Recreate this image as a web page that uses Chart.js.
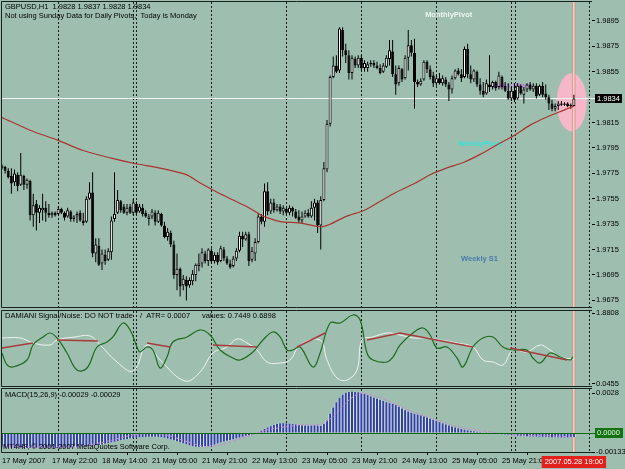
<!DOCTYPE html>
<html>
<head>
<meta charset="utf-8">
<script src="https://cdn.jsdelivr.net/npm/chart.js@4.4.1/dist/chart.umd.min.js"></script>
<style>
html, body { margin: 0; padding: 0; background: #9ebfaf; overflow: hidden; }
#wrap { position: relative; width: 625px; height: 469px; }
canvas { position: absolute; left: 0; }
</style>
</head>
<body>
<div id="wrap">
  <canvas id="priceChart" width="625" height="309" style="top:0"></canvas>
  <canvas id="snChart" width="625" height="78" style="top:309px"></canvas>
  <canvas id="macdChart" width="625" height="82" style="top:387px"></canvas>
</div>
<script>
// GBPUSD H1, 17 May 06:00 .. 28 May 19:00 (bar index 0..183)
const openP = [1.9779,1.9780,1.9777,1.9773,1.9768,1.9774,1.9766,1.9773,1.9766,1.9769,1.9742,1.9751,
 1.9744,1.9746,1.9748,1.9744,1.9742,1.9744,1.9743,1.9747,1.9744,1.9741,1.9745,1.9739,
 1.9741,1.9744,1.9738,1.9737,1.9755,1.9760,1.9712,1.9718,1.9704,1.9711,1.9707,1.9713,
 1.9739,1.9744,1.9753,1.9749,1.9744,1.9749,1.9744,1.9751,1.9745,1.9748,1.9744,1.9739,
 1.9741,1.9744,1.9737,1.9743,1.9734,1.9725,1.9728,1.9719,1.9695,1.9700,1.9687,1.9691,
 1.9687,1.9690,1.9695,1.9702,1.9704,1.9712,1.9706,1.9714,1.9706,1.9711,1.9706,1.9715,
 1.9708,1.9704,1.9702,1.9708,1.9714,1.9726,1.9723,1.9727,1.9707,1.9712,1.9721,1.9741,
 1.9737,1.9761,1.9745,1.9752,1.9746,1.9749,1.9745,1.9747,1.9744,1.9748,1.9745,1.9741,
 1.9738,1.9741,1.9744,1.9741,1.9748,1.9752,1.9734,1.9754,1.9778,1.9814,1.9851,1.9860,
 1.9856,1.9888,1.9872,1.9868,1.9854,1.9865,1.9860,1.9866,1.9858,1.9858,1.9861,1.9862,
 1.9860,1.9858,1.9855,1.9859,1.9865,1.9871,1.9853,1.9846,1.9857,1.9850,1.9866,1.9876,
 1.9870,1.9847,1.9845,1.9849,1.9863,1.9857,1.9852,1.9846,1.9850,1.9846,1.9849,1.9845,
 1.9841,1.9850,1.9856,1.9853,1.9851,1.9873,1.9853,1.9849,1.9855,1.9845,1.9840,1.9838,
 1.9845,1.9843,1.9847,1.9843,1.9851,1.9844,1.9840,1.9834,1.9840,1.9834,1.9844,1.9837,
 1.9841,1.9845,1.9841,1.9844,1.9837,1.9844,1.9838,1.9835,1.9830,1.9826,1.9828,1.9830,
 1.9829,1.9830,1.9828,1.9828];
const highP = [1.9782,1.9781,1.9779,1.9779,1.9778,1.9776,1.9791,1.9774,1.9771,1.9770,1.9759,1.9754,
 1.9750,1.9759,1.9753,1.9751,1.9745,1.9745,1.9749,1.9748,1.9745,1.9748,1.9746,1.9742,
 1.9745,1.9746,1.9744,1.9757,1.9768,1.9776,1.9724,1.9724,1.9715,1.9715,1.9716,1.9741,
 1.9776,1.9762,1.9754,1.9751,1.9751,1.9751,1.9755,1.9753,1.9751,1.9751,1.9746,1.9743,
 1.9747,1.9746,1.9746,1.9744,1.9737,1.9732,1.9730,1.9722,1.9712,1.9701,1.9695,1.9694,
 1.9693,1.9699,1.9704,1.9712,1.9716,1.9714,1.9716,1.9716,1.9713,1.9713,1.9718,1.9717,
 1.9710,1.9707,1.9710,1.9716,1.9729,1.9729,1.9729,1.9729,1.9717,1.9724,1.9744,1.9743,
 1.9767,1.9768,1.9755,1.9755,1.9751,1.9751,1.9750,1.9748,1.9750,1.9749,1.9747,1.9746,
 1.9745,1.9746,1.9747,1.9753,1.9755,1.9754,1.9757,1.9784,1.9817,1.9852,1.9867,1.9868,
 1.9890,1.9890,1.9877,1.9872,1.9868,1.9867,1.9868,1.9868,1.9864,1.9863,1.9864,1.9864,
 1.9863,1.9861,1.9862,1.9868,1.9880,1.9880,1.9860,1.9860,1.9858,1.9868,1.9888,1.9880,
 1.9881,1.9849,1.9850,1.9864,1.9864,1.9860,1.9855,1.9852,1.9854,1.9852,1.9851,1.9847,
 1.9852,1.9857,1.9858,1.9857,1.9875,1.9877,1.9860,1.9857,1.9856,1.9850,1.9847,1.9849,
 1.9868,1.9848,1.9848,1.9855,1.9852,1.9847,1.9846,1.9843,1.9846,1.9846,1.9845,1.9843,
 1.9846,1.9847,1.9846,1.9846,1.9845,1.9847,1.9845,1.9837,1.9833,1.9830,1.9832,1.9832,
 1.9831,1.9831,1.9830,1.9837];
const lowP = [1.9778,1.9775,1.9771,1.9759,1.9765,1.9761,1.9765,1.9762,1.9763,1.9738,1.9733,1.9730,
 1.9736,1.9738,1.9737,1.9740,1.9740,1.9741,1.9742,1.9743,1.9738,1.9740,1.9737,1.9737,
 1.9736,1.9737,1.9734,1.9736,1.9754,1.9709,1.9705,1.9702,1.9699,1.9703,1.9706,1.9707,
 1.9737,1.9743,1.9744,1.9743,1.9742,1.9743,1.9742,1.9742,1.9744,1.9741,1.9740,1.9734,
 1.9739,1.9734,1.9736,1.9733,1.9724,1.9722,1.9717,1.9692,1.9683,1.9678,1.9683,1.9675,
 1.9685,1.9687,1.9690,1.9698,1.9701,1.9704,1.9702,1.9704,1.9704,1.9703,1.9705,1.9706,
 1.9703,1.9700,1.9701,1.9706,1.9713,1.9717,1.9722,1.9702,1.9705,1.9706,1.9720,1.9735,
 1.9733,1.9742,1.9743,1.9744,1.9745,1.9743,1.9742,1.9742,1.9742,1.9741,1.9739,1.9736,
 1.9736,1.9740,1.9740,1.9740,1.9738,1.9728,1.9715,1.9753,1.9776,1.9812,1.9850,1.9854,
 1.9854,1.9867,1.9862,1.9849,1.9849,1.9858,1.9858,1.9856,1.9855,1.9855,1.9859,1.9858,
 1.9857,1.9853,1.9854,1.9858,1.9860,1.9851,1.9837,1.9844,1.9847,1.9849,1.9856,1.9867,
 1.9826,1.9843,1.9844,1.9848,1.9854,1.9849,1.9843,1.9844,1.9845,1.9844,1.9843,1.9832,
 1.9838,1.9849,1.9852,1.9847,1.9850,1.9850,1.9846,1.9847,1.9843,1.9837,1.9835,1.9837,
 1.9839,1.9841,1.9840,1.9841,1.9841,1.9839,1.9833,1.9832,1.9831,1.9833,1.9837,1.9830,
 1.9839,1.9840,1.9839,1.9834,1.9836,1.9835,1.9833,1.9825,1.9824,1.9824,1.9825,1.9828,
 1.9828,1.9827,1.9826,1.9828];
const closeP = [1.9781,1.9777,1.9772,1.9767,1.9775,1.9765,1.9774,1.9766,1.9770,1.9742,1.9750,1.9744,
 1.9748,1.9748,1.9744,1.9742,1.9744,1.9742,1.9747,1.9744,1.9740,1.9746,1.9739,1.9741,
 1.9743,1.9738,1.9736,1.9755,1.9760,1.9712,1.9719,1.9703,1.9712,1.9706,1.9714,1.9738,
 1.9743,1.9754,1.9746,1.9744,1.9748,1.9744,1.9752,1.9744,1.9749,1.9743,1.9741,1.9741,
 1.9745,1.9737,1.9744,1.9734,1.9725,1.9729,1.9719,1.9695,1.9700,1.9686,1.9692,1.9686,
 1.9691,1.9696,1.9703,1.9704,1.9713,1.9706,1.9715,1.9706,1.9711,1.9705,1.9716,1.9708,
 1.9704,1.9701,1.9708,1.9714,1.9726,1.9723,1.9727,1.9706,1.9714,1.9721,1.9741,1.9737,
 1.9761,1.9745,1.9752,1.9746,1.9749,1.9745,1.9748,1.9744,1.9748,1.9745,1.9740,1.9738,
 1.9741,1.9744,1.9741,1.9748,1.9752,1.9734,1.9754,1.9779,1.9814,1.9851,1.9860,1.9855,
 1.9889,1.9872,1.9868,1.9854,1.9866,1.9860,1.9866,1.9858,1.9862,1.9861,1.9862,1.9860,
 1.9858,1.9854,1.9860,1.9866,1.9872,1.9853,1.9845,1.9858,1.9849,1.9866,1.9876,1.9870,
 1.9847,1.9845,1.9848,1.9863,1.9857,1.9851,1.9846,1.9850,1.9846,1.9850,1.9845,1.9841,
 1.9850,1.9856,1.9853,1.9850,1.9873,1.9853,1.9849,1.9856,1.9845,1.9840,1.9837,1.9846,
 1.9843,1.9847,1.9842,1.9852,1.9843,1.9840,1.9834,1.9840,1.9833,1.9844,1.9838,1.9841,
 1.9845,1.9841,1.9844,1.9836,1.9844,1.9837,1.9835,1.9830,1.9826,1.9828,1.9830,1.9829,
 1.9830,1.9828,1.9828,1.9834];

// moving average, read at a set of bars
const maBar = [0,9,18,26,35,42,51,59,63,69,74,79,83,85,89,95,102,105,110,116,121,126,132,137,142,148,153,158,164,169,174,180,183];
const maPrice = [1.9819,1.9809,1.9801,1.9793,1.9787,1.9783,1.9779,1.9774,1.9768,1.9760,1.9754,1.9748,1.9742,1.9740,1.9737,1.9736,1.9733,1.9735,1.9741,1.9746,1.9753,1.9760,1.9767,1.9774,1.9779,1.9784,1.9790,1.9797,1.9805,1.9813,1.9819,1.9825,1.9828];

// DAMIANI Signal/Noise lines
const snWhiteBar = [0,5.8,10,15.4,17.6,23.4,28.2,31.4,36.8,42,46.4,50.6,58.6,63.4,67.5,72,75.2,78.4,81.6,84.8,89,92.2,95.4,101.8,104,107.2,110.4,113.6,115.2,118.7,123.2,127.4,131.5,136,140.2,145.6,150.7,153.9,157.1,160.3,163.5,168,172.2,175.4,178.6,183];
const snWhite = [1.235,1.235,1.105,1.054,1.183,1.261,1.286,1.054,0.614,0.381,1.054,0.666,0.123,0.356,0.847,1.002,1.209,1.105,0.924,0.614,0.588,0.666,1.054,1.183,0.666,0.201,0.149,0.407,1.183,1.261,1.364,1.312,1.235,1.235,1.183,1.105,1.002,0.666,0.614,0.537,0.924,0.873,1.054,0.924,0.743,0.690];
const snGreenBar = [0,1.6,3.5,8,9.9,13.1,15.4,17.6,20.8,24,27.2,30.4,33.6,35.5,38.7,41,43.2,44.2,46.4,48.3,50.6,52.8,54.7,59.2,63.4,66.6,69.8,73.9,76.2,80.3,83.5,86.7,89,91.2,93.1,95.4,99.5,101.8,105,108.2,112.3,114.6,116.8,118.7,123.2,125.1,127.4,131.5,134.7,137,139.2,142.4,145.6,147.5,150.7,153.9,157.1,160.3,163.5,168,169.9,172.2,175.4,178.6,181.8,182.7];
const snGreen = [0.847,0.537,0.485,0.666,1.054,1.261,1.364,1.235,0.847,0.407,0.459,1.002,1.131,1.261,1.622,1.441,1.002,0.873,1.002,0.924,0.459,0.743,1.131,1.261,1.441,1.312,0.924,0.718,0.666,0.873,1.183,1.390,1.261,0.924,0.924,1.002,0.485,0.847,1.622,1.622,1.829,1.700,0.847,0.666,0.614,0.743,1.054,1.364,1.493,1.312,0.976,1.002,0.718,0.485,1.002,1.235,1.261,1.002,0.924,0.924,0.718,0.588,0.847,0.743,0.666,0.745];
const snRedBar = [0,9.9,10,17.6,30.7,31,46.4,53.8,54,67.5,81.6,82,94.4,103.4,104,116.8,127.4,150.7,151,162.6,180.8];
const snRed = [0.976,1.105,null,1.183,1.157,null,1.105,1.002,null,1.054,1.002,null,1.002,1.364,null,1.183,1.364,1.002,null,0.976,0.666];

// MACD(15,26,9)
const macdMain = [-0.00100,-0.00102,-0.00103,-0.00104,-0.00103,-0.00102,-0.00103,-0.00104,-0.00105,-0.00104,-0.00103,
 -0.00103,-0.00104,-0.00105,-0.00104,-0.00103,-0.00104,-0.00105,-0.00104,-0.00103,-0.00104,-0.00103,
 -0.00101,-0.00099,-0.00097,-0.00096,-0.00094,-0.00092,-0.00090,-0.00088,-0.00086,-0.00084,
 -0.00080,-0.00075,-0.00070,-0.00065,-0.00061,-0.00056,
 -0.00050,-0.00046,-0.00042,-0.00038,-0.00035,-0.00032,
 -0.00030,-0.00028,-0.00027,-0.00026,-0.00026,-0.00026,-0.00027,
 -0.00029,-0.00033,-0.00039,-0.00045,-0.00051,
 -0.00058,-0.00065,-0.00072,-0.00079,-0.00086,
 -0.00092,-0.00096,-0.00097,-0.00097,-0.00096,-0.00093,
 -0.00088,-0.00081,-0.00073,-0.00066,-0.00060,-0.00055,
 -0.00050,-0.00044,-0.00038,-0.00032,-0.00026,-0.00020,
 -0.00016,-0.00010,-0.00004,0.00006,0.00016,0.00028,
 0.00039,0.00048,0.00056,0.00063,0.00068,0.00069,
 0.00068,0.00066,0.00063,0.00060,0.00057,0.00054,
 0.00052,0.00052,0.00053,0.00054,0.00052,0.00050,
 0.00063,0.00090,0.00135,0.00178,0.00215,0.00246,
 0.00268,0.00282,0.00287,0.00288,0.00287,0.00285,
 0.00280,0.00273,0.00265,0.00256,0.00248,0.00240,
 0.00232,0.00224,0.00216,0.00209,0.00203,0.00195,
 0.00184,0.00172,0.00160,0.00150,0.00142,0.00135,
 0.00129,0.00123,0.00116,0.00108,0.00100,0.00092,
 0.00084,0.00076,0.00068,0.00060,0.00052,0.00045,
 0.00039,0.00033,0.00028,0.00023,0.00019,0.00015,
 0.00012,0.00009,0.00006,0.00004,0.00002,0.00000,
 -0.00003,-0.00005,-0.00007,-0.00009,-0.00011,-0.00013,
 -0.00015,-0.00017,-0.00019,-0.00021,-0.00022,-0.00023,
 -0.00024,-0.00025,-0.00026,-0.00026,-0.00027,-0.00027,
 -0.00028,-0.00029,-0.00030,-0.00031,-0.00032,-0.00032,-0.00031,-0.00030,-0.00029];
const sigBar = [0,20.8,31.4,41.9,48.3,52.8,59.2,65.6,72,78.4,84.8,95.4,101.8,105.9,110.4,114.6,120,126.4,132.8,139.2,145.6,152,159.4,165.8,174.4,183];
const sigVal = [-0.00091,-0.00098,-0.00070,-0.00014,-0.00002,-0.00014,-0.00061,-0.00096,-0.00072,-0.00026,0.00021,0.00056,0.00061,0.00114,0.00219,0.00278,0.00254,0.00196,0.00138,0.00091,0.00044,0.00021,-0.00002,-0.00014,-0.00019,-0.00029];

// axes
const priceTicks = [1.9895,1.9875,1.9855,1.9815,1.9795,1.9775,1.9755,1.9735,1.9715,1.9695,1.9675];
const snTicks = [1.8808,0.0455];
const macdTicks = [0.0028,0,-0.00133];
const dateBars = [0,16,32,48,64,80,96,112,128,144,160];
const dateLabels = ['17 May 2007','17 May 22:00','18 May 14:00','21 May 05:00','21 May 21:00','22 May 13:00',
  '23 May 05:00','23 May 21:00','24 May 13:00','25 May 05:00','25 May 21:00'];
const gridBars = [18,42,43,67,91,115,139,163,164,188];
const lastBar = 183;
const bidPrice = 1.9834;
const xMax = 188.8;

const pivotLabels = [
  {text: 'MonthlyPivot', bar: 135.4, price: 1.9900, color: '#eef4f0'},
  {text: 'Daily Pivot', bar: 157.1, price: 1.9844, color: '#b46ad6'},
  {text: 'WeeklyPivot', bar: 145.9, price: 1.9798, color: '#38e2da'},
  {text: 'Weekly S1', bar: 146.9, price: 1.9708, color: '#4b79ab'}
];

const fontFam = '"Liberation Sans", Arial, sans-serif';
Chart.defaults.font.family = fontFam;
Chart.defaults.font.size = 7.5;
Chart.defaults.color = '#000';

function drawText(ctx, s, x, y, color, bold, align) {
  ctx.font = (bold ? 'bold ' : '') + '7.5px ' + fontFam;
  ctx.fillStyle = color;
  ctx.textAlign = align || 'left';
  ctx.textBaseline = 'middle';
  ctx.fillText(s, x, y);
}

// day separators, current bar marker, frame and pane texts
const paneDecor = {
  id: 'paneDecor',
  beforeDatasetsDraw(chart) {
    const {ctx, chartArea: a, scales: {x}} = chart;
    ctx.save();
    ctx.strokeStyle = '#1b1b1b';
    ctx.lineWidth = 1;
    ctx.setLineDash([2, 2]);
    gridBars.forEach(b => {
      const px = Math.round(x.getPixelForValue(b)) + 0.5;
      ctx.beginPath(); ctx.moveTo(px, a.top); ctx.lineTo(px, a.bottom); ctx.stroke();
    });
    ctx.setLineDash([]);
    const cx = x.getPixelForValue(lastBar);
    ctx.strokeStyle = '#d7877a'; ctx.lineWidth = 3;
    ctx.beginPath(); ctx.moveTo(cx, a.top); ctx.lineTo(cx, a.bottom); ctx.stroke();
    ctx.strokeStyle = '#ffffff'; ctx.lineWidth = 1;
    ctx.beginPath(); ctx.moveTo(cx, a.top); ctx.lineTo(cx, a.bottom); ctx.stroke();
    ctx.restore();
  },
  afterDatasetsDraw(chart, args, opts) {
    const ctx = chart.ctx;
    ctx.save();
    (opts.texts || []).forEach(t => drawText(ctx, t.s, t.x, t.y, '#000', false));
    ctx.restore();
  },
  afterDraw(chart) {
    const {ctx, chartArea: a} = chart;
    ctx.save();
    ctx.strokeStyle = '#17231c';
    ctx.lineWidth = 1;
    ctx.beginPath();
    ctx.moveTo(a.right, a.top - 0.5);
    ctx.lineTo(a.left - 0.5, a.top - 0.5);
    ctx.lineTo(a.left - 0.5, a.bottom + 0.5);
    ctx.lineTo(a.right, a.bottom + 0.5);
    ctx.stroke();
    ctx.restore();
  }
};

const mainDecor = {
  id: 'mainDecor',
  beforeDraw(chart) {
    const {ctx, scales: {x, y}} = chart;
    ctx.save();
    ctx.fillStyle = '#f6b8c8';
    ctx.beginPath();
    ctx.ellipse(x.getPixelForValue(182.3), y.getPixelForValue(1.9831), 15, 29, 0, 0, Math.PI * 2);
    ctx.fill();
    ctx.restore();
  },
  beforeDatasetsDraw(chart) {
    const {ctx, chartArea: a, scales: {x, y}} = chart;
    ctx.save();
    pivotLabels.forEach(p => drawText(ctx, p.text, x.getPixelForValue(p.bar), y.getPixelForValue(p.price), p.color, true));
    const by = Math.round(y.getPixelForValue(bidPrice)) + 0.5;
    ctx.strokeStyle = '#f4f4f4'; ctx.lineWidth = 1;
    ctx.beginPath(); ctx.moveTo(a.left, by); ctx.lineTo(a.right + 3, by); ctx.stroke();
    ctx.restore();
  },
  afterDraw(chart) {
    const {ctx, chartArea: a, scales: {y}} = chart;
    ctx.save();
    const by = y.getPixelForValue(bidPrice);
    const s = bidPrice.toFixed(4);
    ctx.font = '7.5px ' + fontFam;
    const w = ctx.measureText(s).width + 4;
    ctx.fillStyle = '#000';
    ctx.fillRect(a.right + 3, Math.round(by) - 4, w, 9);
    drawText(ctx, s, a.right + 5, by + 0.5, '#fff', false);
    ctx.restore();
  }
};

const macdDecor = {
  id: 'macdDecor',
  afterDatasetsDraw(chart) {
    const {ctx, chartArea: a, scales: {y}} = chart;
    ctx.save();
    const zy = Math.round(y.getPixelForValue(0)) + 0.5;
    ctx.strokeStyle = '#0b6a0b'; ctx.lineWidth = 1;
    ctx.beginPath(); ctx.moveTo(a.left, zy); ctx.lineTo(a.right + 3, zy); ctx.stroke();
    ctx.restore();
  },
  afterDraw(chart) {
    const {ctx, chartArea: a, scales: {x, y}} = chart;
    ctx.save();
    const zy = y.getPixelForValue(0);
    ctx.fillStyle = '#137313';
    ctx.fillRect(a.right + 3, Math.round(zy) - 5, 28, 10);
    drawText(ctx, '0.0000', a.right + 5, zy, '#e6f6e6', false);
    const s = '2007.05.28 19:00';
    ctx.font = '7.5px ' + fontFam;
    const w = ctx.measureText(s).width + 6;
    const cx = x.getPixelForValue(lastBar);
    ctx.fillStyle = '#e3201c';
    ctx.fillRect(cx - w / 2, a.bottom + 4, w, 12);
    drawText(ctx, s, cx, a.bottom + 10, '#fff', false, 'center');
    ctx.restore();
  }
};

function paneOptions(yMin, yMax, yTicks, yLabel, texts) {
  return {
    responsive: false,
    animation: false,
    devicePixelRatio: 1,
    events: [],
    layout: {padding: {left: 2, right: 0, top: 2, bottom: 2}},
    plugins: {legend: {display: false}, tooltip: {enabled: false}, paneDecor: {texts: texts}},
    scales: {
      x: {type: 'linear', min: 0, max: xMax, offset: false, display: false},
      y: {
        position: 'right', min: yMin, max: yMax,
        border: {display: false},
        grid: {drawOnChartArea: false, drawTicks: true, tickLength: 3, color: '#000'},
        ticks: {padding: 1, color: '#000', autoSkip: false, callback: yLabel},
        afterBuildTicks: s => { s.ticks = yTicks.map(v => ({value: v})); },
        afterFit: s => { s.width = 33; s.paddingTop = 0; s.paddingBottom = 0; }
      }
    }
  };
}

const idx = openP.map((o, i) => i);
const wickData = idx.map(i => ({x: i, y: [lowP[i], highP[i]]}));
const bodyData = idx.map(i => ({x: i, y: [openP[i], closeP[i]]}));
const bodyFill = idx.map(i => closeP[i] >= openP[i] ? '#ffffff' : '#000000');
const macdData = idx.map(i => ({x: i, y: macdMain[i]}));
const toXY = (xs, ys) => xs.map((b, k) => ({x: b, y: ys[k]}));

new Chart(document.getElementById('priceChart'), {
  type: 'bar',
  data: {
    datasets: [
      {type: 'line', data: toXY(maBar, maPrice), borderColor: '#a8352f', borderWidth: 1.2,
       pointRadius: 0, tension: 0.3, order: 0},
      {data: bodyData, backgroundColor: bodyFill, borderColor: '#000', borderWidth: 1,
       borderSkipped: false, barThickness: 3, grouped: false, minBarLength: 1, inflateAmount: 0, order: 1},
      {data: wickData, backgroundColor: '#000', barThickness: 1, grouped: false, inflateAmount: 0, order: 2}
    ]
  },
  options: paneOptions(1.966980, 1.990996, priceTicks, v => v.toFixed(4), [
    {s: 'GBPUSD,H1  1.9828 1.9837 1.9828 1.9834', x: 5, y: 7},
    {s: 'Not using Sunday Data for Daily Pivots,  Today is Monday', x: 5, y: 16}
  ]),
  plugins: [paneDecor, mainDecor]
});

new Chart(document.getElementById('snChart'), {
  type: 'line',
  data: {
    datasets: [
      {data: toXY(snRedBar, snRed), borderColor: '#a83c3c', borderWidth: 1.5, pointRadius: 0, tension: 0, spanGaps: false, order: 0},
      {data: toXY(snGreenBar, snGreen), borderColor: '#1d6a1d', borderWidth: 1.2, pointRadius: 0, tension: 0.4, order: 1},
      {data: toXY(snWhiteBar, snWhite), borderColor: '#f0f2f0', borderWidth: 1, pointRadius: 0, tension: 0.4, order: 2}
    ]
  },
  options: (() => {
    const o = paneOptions(-0.0062, 1.9325, snTicks, v => v.toFixed(4), [
      {s: 'DAMIANI Signal/Noise: DO NOT trade', x: 5, y: 7},
      {s: '/  ATR= 0.0007', x: 140, y: 7},
      {s: 'values: 0.7449 0.6898', x: 202, y: 7}
    ]);
    o.layout.padding.bottom = 1;
    return o;
  })(),
  plugins: [paneDecor]
});

new Chart(document.getElementById('macdChart'), {
  type: 'bar',
  data: {
    datasets: [
      {type: 'line', data: toXY(sigBar, sigVal), borderColor: '#c98ad2', borderWidth: 1,
       borderDash: [3, 2], pointRadius: 0, tension: 0.3, order: 0},
      {data: macdData, backgroundColor: '#2f429c', barThickness: 2, grouped: false, inflateAmount: 0, order: 1},
      {data: macdData, backgroundColor: '#e8ecf6', barThickness: 3.2, grouped: false, inflateAmount: 0, order: 2}
    ]
  },
  options: (() => {
    const o = paneOptions(-0.00133, 0.00308, macdTicks,
      v => v === 0 ? '0.0000' : (v === -0.00133 ? '-0.00133' : v.toFixed(4)), [
      {s: 'MACD(15,26,9) -0.00029 -0.00029', x: 5, y: 8},
      {s: 'MT4HF, \u00a9 2001-2007 MetaQuotes Software Corp.', x: 3, y: 60}
    ]);
    o.layout.padding.bottom = 0;
    o.scales.y.ticks.color = c => (c.tick && c.tick.value === 0) ? 'rgba(0,0,0,0)' : '#000';
    o.scales.x = {
      type: 'linear', min: 0, max: xMax, offset: false, display: true, position: 'bottom',
      border: {display: false},
      grid: {drawOnChartArea: false, drawTicks: true, tickLength: 3, color: '#000'},
      ticks: {align: 'start', padding: 1, autoSkip: false, maxRotation: 0, minRotation: 0, color: '#000',
              callback: v => dateLabels[dateBars.indexOf(v)]},
      afterBuildTicks: s => { s.ticks = dateBars.map(v => ({value: v})); },
      afterFit: s => { s.height = 17; s.paddingLeft = 0; s.paddingRight = 0; }
    };
    return o;
  })(),
  plugins: [paneDecor, macdDecor]
});
</script>
</body>
</html>
